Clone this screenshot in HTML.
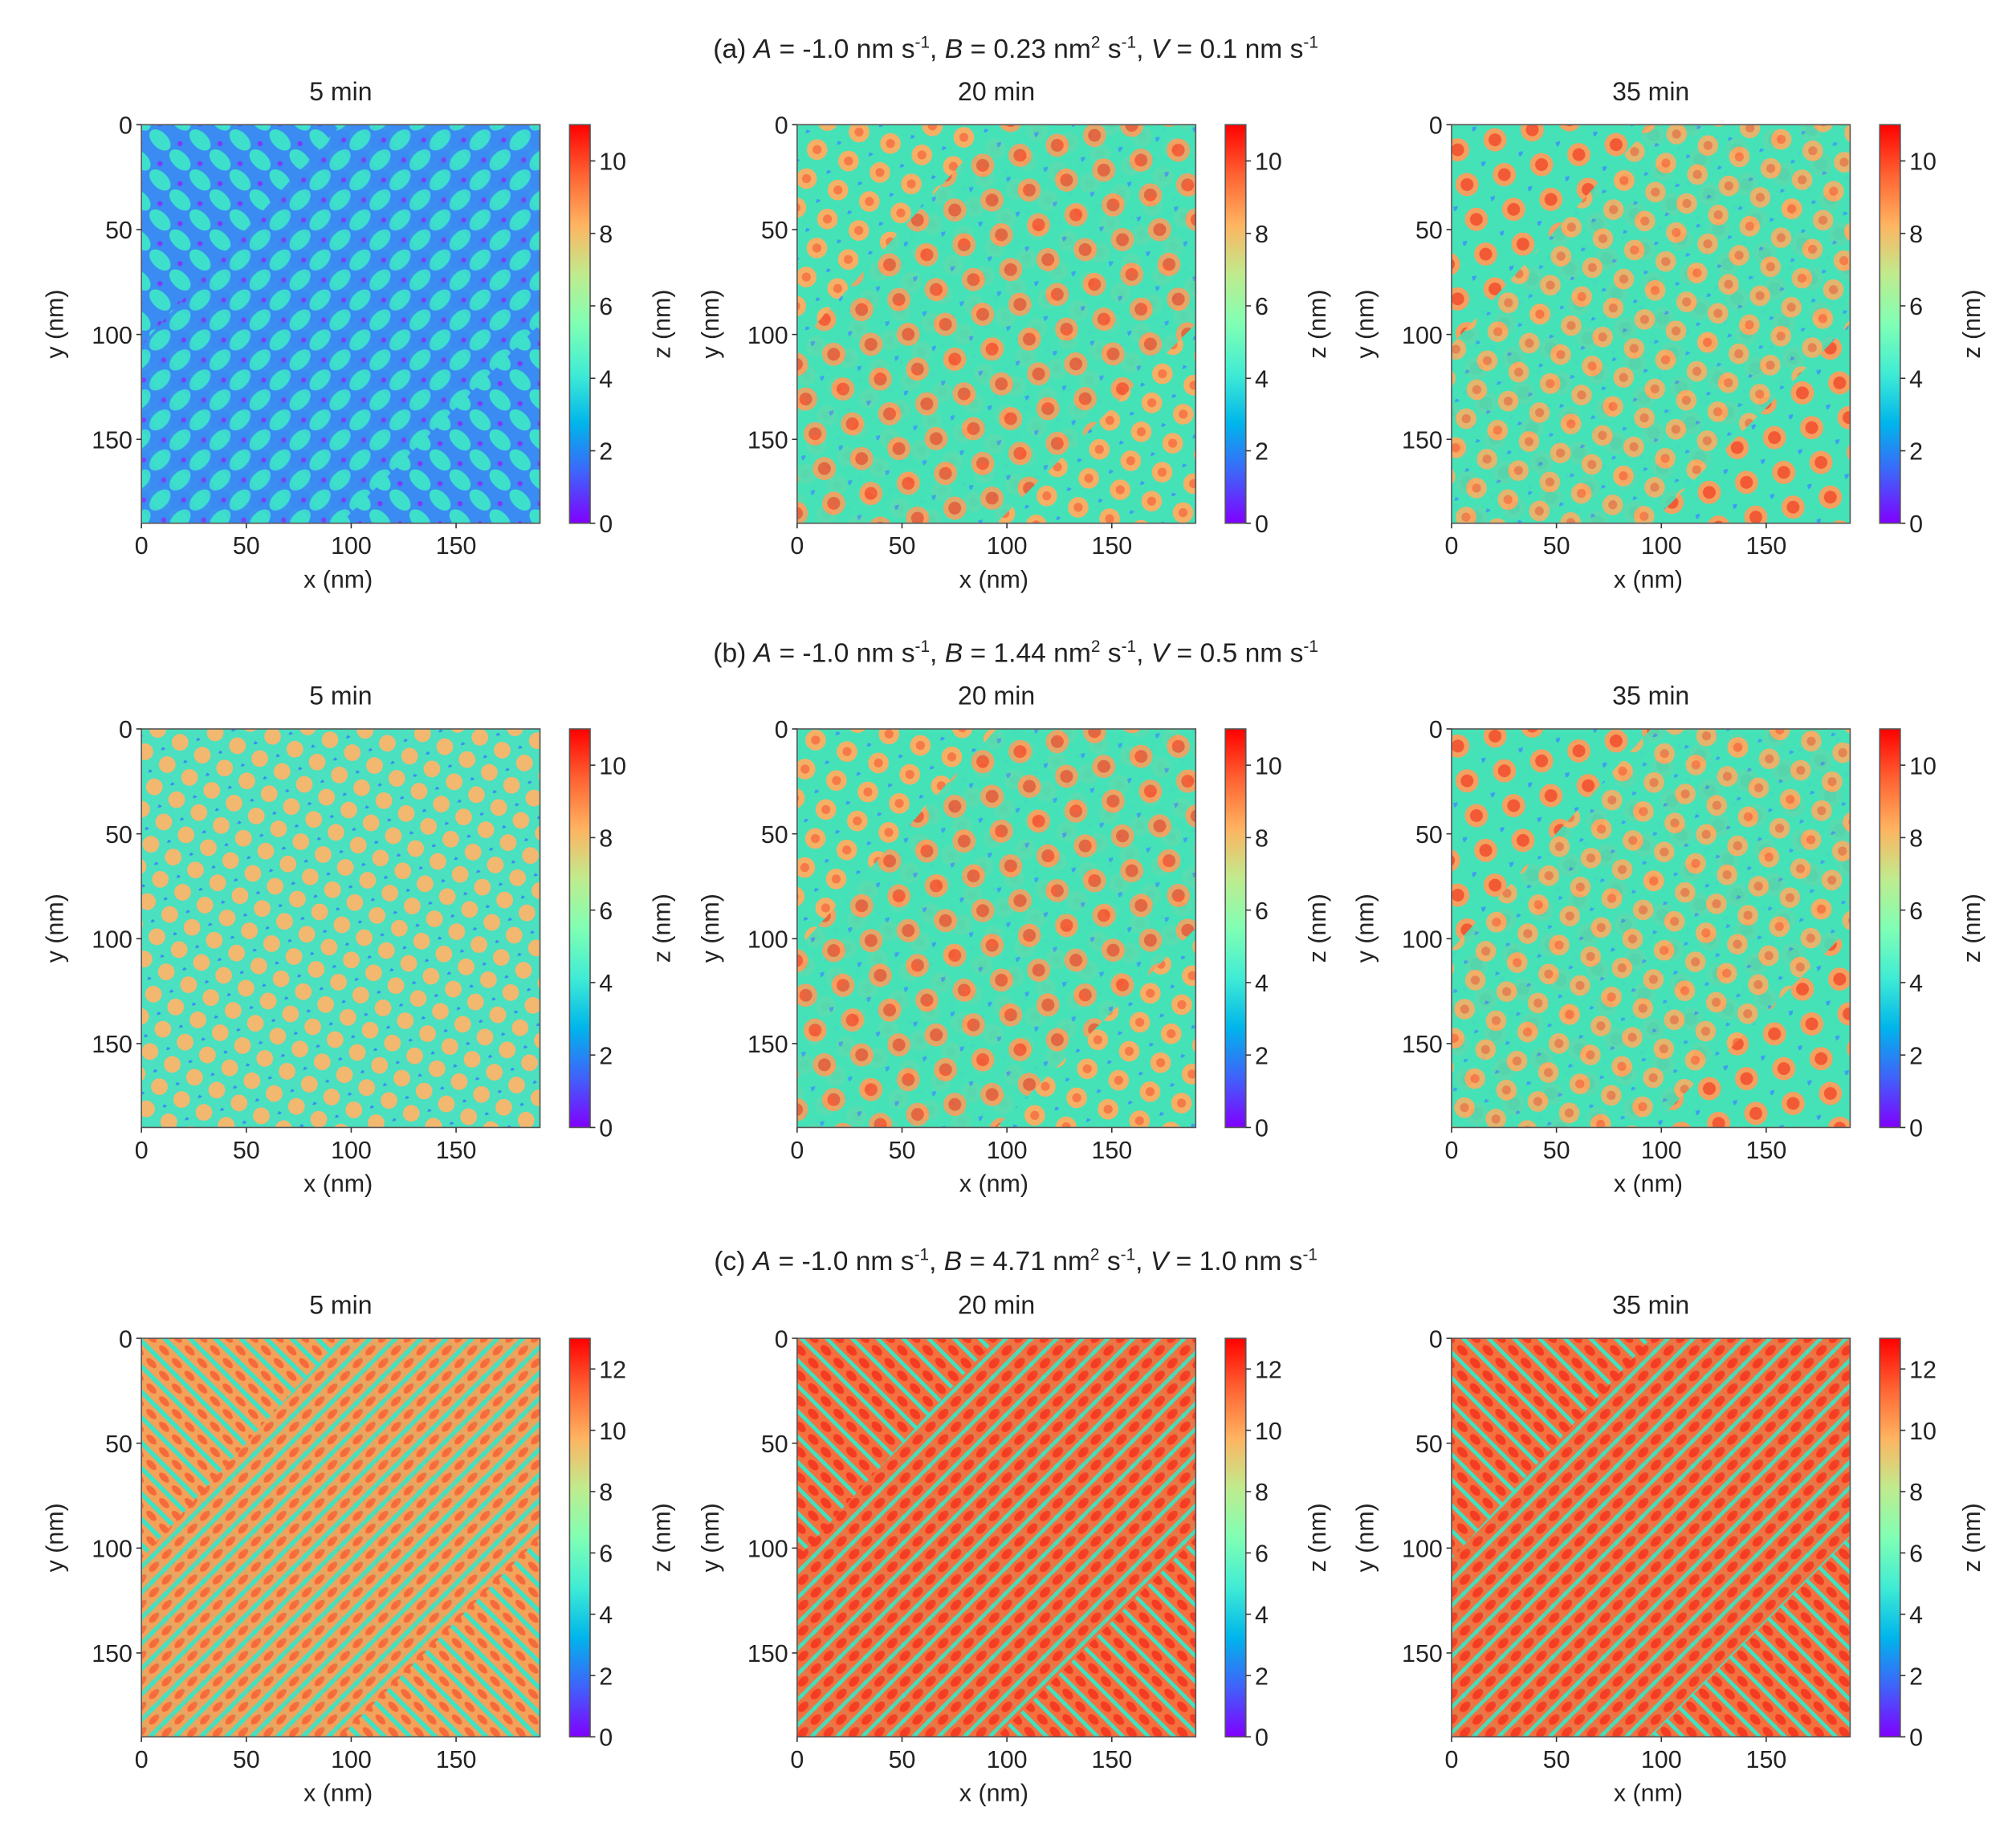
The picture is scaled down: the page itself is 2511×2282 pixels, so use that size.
<!DOCTYPE html>
<html><head><meta charset="utf-8"><style>
html,body{margin:0;padding:0;background:#fff}
svg{display:block}
text{font-family:"Liberation Sans",sans-serif;fill:#222}
</style></head><body>
<svg id="fig" width="2511" height="2282" viewBox="0 0 1568 1425" xmlns="http://www.w3.org/2000/svg">
<defs>
<linearGradient id="rainbow" x1="0" y1="1" x2="0" y2="0">
<stop offset="0" stop-color="#8000ff"/><stop offset="0.125" stop-color="#4062fa"/><stop offset="0.25" stop-color="#00b5eb"/><stop offset="0.375" stop-color="#40ecd4"/><stop offset="0.5" stop-color="#80ffb4"/><stop offset="0.625" stop-color="#c0eb8d"/><stop offset="0.75" stop-color="#ffb360"/><stop offset="0.875" stop-color="#ff6232"/><stop offset="1" stop-color="#ff0000"/>
</linearGradient>
<pattern id="pa1" width="22" height="22" patternUnits="userSpaceOnUse" patternTransform="rotate(45)"><rect width="22" height="22" fill="#3a8cf2"/><ellipse cx="11" cy="11" rx="10" ry="6" fill="#3ee0cc"/><circle cx="2" cy="2" r="2" fill="#7a3cf5"/></pattern>
<pattern id="pa1b" width="22" height="22" patternUnits="userSpaceOnUse" patternTransform="rotate(-45)"><rect width="22" height="22" fill="#3a8cf2"/><ellipse cx="11" cy="11" rx="10" ry="6" fill="#3ee0cc"/><circle cx="2" cy="2" r="2" fill="#7a3cf5"/></pattern>
<pattern id="pdot" width="26" height="24" patternUnits="userSpaceOnUse" patternTransform="rotate(20)"><rect width="26" height="24" fill="#45e2b8"/><circle cx="13" cy="12" r="8" fill="#f5b066"/><circle cx="13" cy="12" r="3.5" fill="#f67a48"/><circle cx="0" cy="0" r="3" fill="#3d9ef0"/></pattern>
<pattern id="pdot2" width="30" height="28" patternUnits="userSpaceOnUse" patternTransform="rotate(-15)"><rect width="30" height="28" fill="#45e2b8"/><circle cx="15" cy="14" r="9" fill="#f4a060"/><circle cx="15" cy="14" r="5" fill="#f25a36"/><circle cx="0" cy="0" r="3.5" fill="#3d9ef0"/></pattern>
<pattern id="pdotb" width="20" height="20" patternUnits="userSpaceOnUse" patternTransform="rotate(30)"><rect width="20" height="20" fill="#4ae0c0"/><circle cx="10" cy="10" r="6.5" fill="#f2b870"/><circle cx="0" cy="0" r="2.5" fill="#3a8cf2"/></pattern>
<pattern id="pc1" width="14" height="14" patternUnits="userSpaceOnUse" patternTransform="rotate(45)"><rect width="14" height="14" fill="#f3a25a"/><rect y="0" width="14" height="3.5" fill="#3ee2c4"/><ellipse cx="7" cy="8.5" rx="5" ry="2.5" fill="#f56a3a"/></pattern>
<pattern id="pc2" width="14" height="14" patternUnits="userSpaceOnUse" patternTransform="rotate(-45)"><rect width="14" height="14" fill="#f3a25a"/><rect y="0" width="14" height="3.5" fill="#3ee2c4"/><ellipse cx="7" cy="8.5" rx="5" ry="2.5" fill="#f56a3a"/></pattern>
<pattern id="pc3" width="14" height="14" patternUnits="userSpaceOnUse" patternTransform="rotate(45)"><rect width="14" height="14" fill="#f4703e"/><rect y="0" width="14" height="3" fill="#40e2c0"/><ellipse cx="7" cy="8.5" rx="5" ry="3" fill="#f43c22"/></pattern>
<pattern id="pc4" width="14" height="14" patternUnits="userSpaceOnUse" patternTransform="rotate(-45)"><rect width="14" height="14" fill="#f4703e"/><rect y="0" width="14" height="3" fill="#40e2c0"/><ellipse cx="7" cy="8.5" rx="5" ry="3" fill="#f43c22"/></pattern>
</defs>
</svg>
<script>
const rowTitles = [
 ["(a)", "-1.0", "0.23", "0.1"],
 ["(b)", "-1.0", "1.44", "0.5"],
 ["(c)", "-1.0", "4.71", "1.0"]
];
const times = ["5 min", "20 min", "35 min"];
const xTicks = [0, 50, 100, 150];
const yTicks = [0, 50, 100, 150];
const extent = 190;
const zMaxRows = [11, 11, 13];
const zTicksRows = [[0,2,4,6,8,10],[0,2,4,6,8,10],[0,2,4,6,8,10,12]];
const fills = [["pa1","pdot","pdot2"],["pdotb","pdot","pdot2"],["pc1","pc3","pc3"]];
const fills2 = [["pa1b","pdot2","pdot"],["pdotb","pdot2","pdot"],["pc2","pc4","pc4"]];

const svg = document.getElementById('fig');
const NS = 'http://www.w3.org/2000/svg';
function el(tag, attrs, parent){const e=document.createElementNS(NS,tag);for(const k in attrs)e.setAttribute(k,attrs[k]);(parent||svg).appendChild(e);return e;}
const rowTop = [97, 567, 1041];
const colLeft = [110, 620, 1129];
const W = 310, H = 310;
const titleY = [45, 515, 988];

rowTitles.forEach((t, r) => {
  const tx = el('text', {x: 790, y: titleY[r], 'text-anchor':'middle', 'font-size': 21});
  
  
  tx.innerHTML = t[0] + '  <tspan font-style="italic">A</tspan> = ' + t[1] + ' nm s<tspan dy="-8" font-size="13">-1</tspan><tspan dy="8">, </tspan><tspan font-style="italic">B</tspan> = ' + t[2] + ' nm<tspan dy="-8" font-size="13">2</tspan><tspan dy="8"> s</tspan><tspan dy="-8" font-size="13">-1</tspan><tspan dy="8">, </tspan><tspan font-style="italic">V</tspan> = ' + t[3] + ' nm s<tspan dy="-8" font-size="13">-1</tspan>';
  times.forEach((tm, c) => {
    const x0 = colLeft[c], y0 = rowTop[r];
    const sx = v => x0 + v / extent * W;
    const sy = v => y0 + v / extent * H;
    const g = el('g', {});
    
    
    const st = el('text', {x: x0 + W/2, y: y0 - 19, 'text-anchor':'middle', 'font-size': 20}, g);
    
    
    st.textContent = tm;
    const hm = el('rect', {x: x0, y: y0, width: W, height: H, fill: 'url(#' + fills[r][c] + ')'}, g);
    
    
    const hm2 = el('polygon', {points: `${sx(95)},${y0} ${x0+W},${y0} ${x0+W},${sy(95)} ${sx(95)},${y0+H} ${x0},${y0+H} ${x0},${sy(105)}`, fill: 'url(#' + fills2[r][c] + ')', opacity: 0.9}, g);
    
    
    el('rect', {x: x0, y: y0, width: W, height: H, fill: 'none', stroke: '#555', 'stroke-width': 1}, g);
    xTicks.forEach(v => {
      el('line', {x1: sx(v), x2: sx(v), y1: y0+H, y2: y0+H+4, stroke:'#333'}, g);
      const tl = el('text', {x: sx(v), y: y0+H+24, 'text-anchor':'middle', 'font-size': 19}, g);
      
      
      tl.textContent = v;
    });
    yTicks.forEach(v => {
      el('line', {x1: x0-4, x2: x0, y1: sy(v), y2: sy(v), stroke:'#333'}, g);
      const tl = el('text', {x: x0-7, y: sy(v)+7, 'text-anchor':'end', 'font-size': 19}, g);
      
      
      tl.textContent = v;
    });
    const xl = el('text', {x: x0 + W/2 - 2, y: y0+H+50, 'text-anchor':'middle', 'font-size': 19}, g);
    
    
    xl.textContent = 'x (nm)';
    const yl = el('text', {x: 0, y: 0, 'text-anchor':'middle', 'font-size': 19, transform: `translate(${x0-61},${y0+H/2}) rotate(-90)`}, g);
    
    
    yl.textContent = 'y (nm)';
    // colorbar
    const cx = x0 + 333, cw = 16;
    const zMax = zMaxRows[r];
    const sz = v => y0 + H - v / zMax * H;
    const cb = el('rect', {x: cx, y: y0, width: cw, height: H, fill: 'url(#rainbow)', stroke:'#555', 'stroke-width':1}, g);
    
    
    zTicksRows[r].forEach(v => {
      el('line', {x1: cx+cw, x2: cx+cw+4, y1: sz(v), y2: sz(v), stroke:'#333'}, g);
      const tl = el('text', {x: cx+cw+7, y: sz(v)+7, 'font-size': 19}, g);
      
      
      tl.textContent = v;
    });
    const zl = el('text', {x: 0, y: 0, 'text-anchor':'middle', 'font-size': 19, transform: `translate(${cx+78},${y0+H/2}) rotate(-90)`}, g);
    
    
    zl.textContent = 'z (nm)';
  });
});
</script>
</body></html>
